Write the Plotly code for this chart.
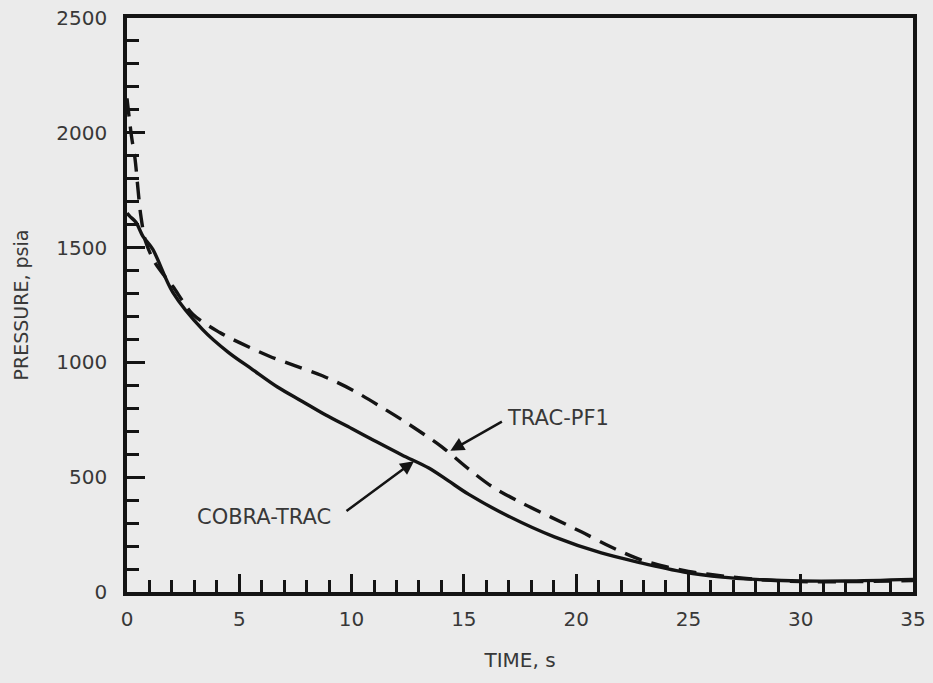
import plotly.graph_objects as go

# COBRA-TRAC (solid)
cobra_t = [0, 0.13, 0.4, 0.71, 1.15, 2.04, 3.37, 4.5, 5.59, 6.7, 7.81, 8.83, 10.0, 11.0, 12.24,
           13.44, 14.3, 15.22, 16.99, 19.03, 21.12, 22.89, 24.8, 26.5, 28, 30, 32, 35]
cobra_p = [1650, 1636, 1610, 1549, 1492, 1305, 1143, 1045, 969, 893, 830, 772, 712, 660, 597,
           540, 485, 425, 330, 240, 170, 127, 87, 65, 55, 48, 48, 55]

# TRAC-PF1 (dashed)
trac_t = [0, 0.2, 0.36, 0.49, 0.62, 0.84, 1.24, 1.69, 2.04, 2.93, 4.13, 5.01, 6.34, 7.5, 8.7,
          10.03, 11.5, 12.56, 14.02, 15.22, 16.24, 17.57, 18.9, 20.23, 21.56, 22.89, 24, 25,
          26.5, 28, 30, 32, 35]
trac_p = [2150, 1985, 1885, 1754, 1636, 1523, 1435, 1374, 1331, 1210, 1130, 1086, 1027, 985, 942,
          880, 795, 730, 632, 535, 460, 388, 325, 262, 196, 140, 110, 90,
          70, 55, 45, 45, 50]

x_ticks = [0, 5, 10, 15, 20, 25, 30, 35]
y_ticks = [0, 500, 1000, 1500, 2000, 2500]

FONT = "DejaVu Sans"
TXT = "#383838"
BG = "#ebebeb"
INK = "#141414"

fig = go.Figure()
fig.add_trace(go.Scatter(x=trac_t, y=trac_p, mode="lines",
                         line=dict(color=INK, width=3.4, dash="18px,10px",
                                   shape="spline", smoothing=0.9),
                         showlegend=False, hoverinfo="skip"))
fig.add_trace(go.Scatter(x=cobra_t, y=cobra_p, mode="lines",
                         line=dict(color=INK, width=3.4, shape="spline", smoothing=0.9),
                         showlegend=False, hoverinfo="skip"))

fig.update_layout(
    width=933, height=683,
    margin=dict(l=127, r=20, t=18, b=91),
    paper_bgcolor=BG, plot_bgcolor=BG,
    font=dict(family=FONT, size=20, color=TXT),
)

fig.update_xaxes(
    range=[0, 35], tickvals=x_ticks, ticks="inside", ticklen=18, tickwidth=2.5,
    tickcolor=INK, automargin=False,
    minor=dict(ticks="inside", ticklen=12, dtick=1, tickwidth=2.5, tickcolor=INK),
    showline=True, linewidth=3.5, linecolor=INK, mirror=True,
    showgrid=False, zeroline=False, ticklabelstandoff=6,
    title=dict(text="TIME, s", standoff=24, font=dict(size=20, color=TXT)),
)
fig.update_yaxes(
    range=[0, 2500], tickvals=y_ticks, ticks="inside", ticklen=18, tickwidth=2.5,
    tickcolor=INK, automargin=False,
    minor=dict(ticks="inside", ticklen=12, dtick=100, tickwidth=2.5, tickcolor=INK),
    showline=True, linewidth=3.5, linecolor=INK, mirror=True,
    showgrid=False, zeroline=False, ticklabelstandoff=12,
    title=dict(text="PRESSURE, psia", standoff=24, font=dict(size=19, color=TXT)),
)

# Labels and arrows
fig.add_annotation(x=16.83, y=758, text="TRAC-PF1", showarrow=False,
                   xanchor="left", yanchor="middle", font=dict(size=21, color=TXT))
fig.add_annotation(x=14.4, y=615, ax=53, ay=-30, text="", showarrow=True,
                   arrowhead=2, arrowsize=1.1, arrowwidth=2.5, arrowcolor=INK)
fig.add_annotation(x=6.1, y=327, text="COBRA-TRAC", showarrow=False,
                   xanchor="center", yanchor="middle", font=dict(size=21, color=TXT))
fig.add_annotation(x=12.78, y=570, ax=-69, ay=51, text="", showarrow=True,
                   arrowhead=2, arrowsize=1.1, arrowwidth=2.5, arrowcolor=INK)

fig.write_html("out.html")
